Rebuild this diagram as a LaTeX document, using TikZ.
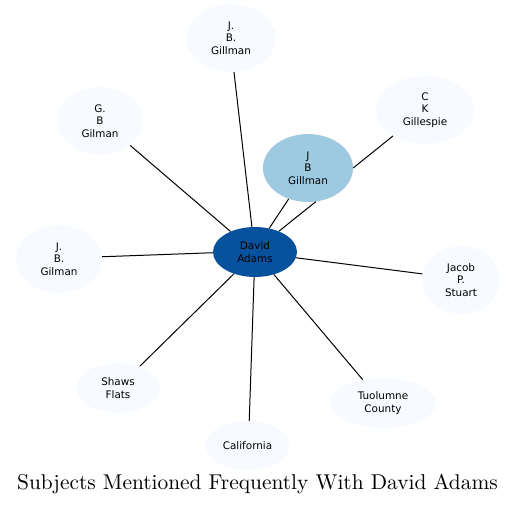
\documentclass[tikz,border=0pt]{standalone}
\usepackage{fontspec}
\newfontfamily\nodefont{DejaVu Sans}
\newfontfamily\titlefont[Extension=.otf]{lmroman10-regular}
\usetikzlibrary{shapes.geometric}
\definecolor{pale}{HTML}{F7FBFF}
\definecolor{midblue}{HTML}{9ECAE1}
\definecolor{darkblue}{HTML}{08519C}
\tikzset{
  ent/.style={ellipse, fill=pale, draw=none, inner sep=0pt, align=center,
    font=\nodefont\fontsize{10.4}{12.3}\selectfont},
  link/.style={draw=black, line width=1pt},
}
\begin{document}
\begin{tikzpicture}[x=1pt,y=-1pt]
\useasboundingbox (0,0) rectangle (516,506);
\node[ent, minimum width=90pt, minimum height=68pt] (jbg1) at (231,38) {J.\\B.\\Gillman};
\node[ent, minimum width=86pt, minimum height=68pt] (gbg) at (100,121) {G.\\B\\Gilman};
\node[ent, minimum width=98pt, minimum height=68pt] (ckg) at (425,110) {C\\K\\Gillespie};
\node[ent, fill=midblue, minimum width=90pt, minimum height=68pt] (jbg2) at (308,168) {J\\B\\Gillman};
\node[ent, fill=darkblue, minimum width=84pt, minimum height=50pt] (da) at (255,252) {David\\Adams};
\node[ent, minimum width=86pt, minimum height=68pt] (jbg3) at (59,259) {J.\\B.\\Gilman};
\node[ent, minimum width=78pt, minimum height=68pt] (jps) at (461,280) {Jacob\\P.\\Stuart};
\node[ent, minimum width=84pt, minimum height=50pt] (sf) at (118,388) {Shaws\\Flats};
\node[ent, minimum width=85pt, minimum height=49pt] (cal) at (247.5,445.5) {California};
\node[ent, minimum width=106pt, minimum height=50pt] (tc) at (383,403) {Tuolumne\\County};
\node[font=\titlefont\fontsize{21.4}{24}\selectfont] (title) at (257.5,484) {Subjects Mentioned Frequently With David Adams};
\draw[link] (jbg1.275) -- (da.97);
\draw[link] (gbg.321) -- (da.140);
\draw[link] (jbg3.3) -- (da.181);
\draw[link] (jps.171) -- (da.352);
\draw[link] (sf.45) -- (da.226);
\draw[link] (cal.86) -- (da.268);
\draw[link] (tc.131) -- (da.310);
\draw[link] (da.59) -- (jbg2.238);
\draw[link] (da.41) -- (jbg2.283);
\draw[link] (jbg2.0) -- (ckg.219);
\end{tikzpicture}
\end{document}
